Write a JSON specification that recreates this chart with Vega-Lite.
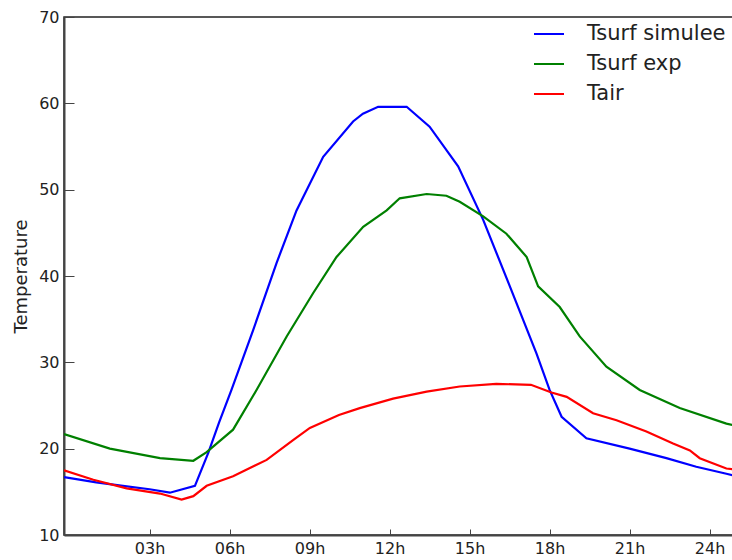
{
  "$schema": "https://vega.github.io/schema/vega-lite/v6.json",
  "autosize": {"type": "none"},
  "padding": {"left": 64, "top": 17, "right": 0, "bottom": 25},
  "width": 680,
  "height": 518,
  "background": "white",
  "config": {
    "font": "DejaVu Sans",
    "view": {"stroke": "#222", "strokeWidth": 1.5},
    "axis": {"labelFont": "DejaVu Sans", "titleFont": "DejaVu Sans", "labelColor": "#222", "titleColor": "#222", "domainColor": "#444", "domainWidth": 2, "tickColor": "#444", "tickWidth": 1, "grid": false}
  },
  "data": {
    "values": [
      {"h": -0.21, "v": 16.7, "s": "Tsurf simulee"},
      {"h": 1.0, "v": 16.1, "s": "Tsurf simulee"},
      {"h": 2.0, "v": 15.7, "s": "Tsurf simulee"},
      {"h": 3.0, "v": 15.3, "s": "Tsurf simulee"},
      {"h": 3.76, "v": 14.9, "s": "Tsurf simulee"},
      {"h": 4.7, "v": 15.7, "s": "Tsurf simulee"},
      {"h": 5.2, "v": 19.5, "s": "Tsurf simulee"},
      {"h": 5.6, "v": 23.0, "s": "Tsurf simulee"},
      {"h": 6.07, "v": 26.8, "s": "Tsurf simulee"},
      {"h": 6.88, "v": 33.7, "s": "Tsurf simulee"},
      {"h": 7.76, "v": 41.5, "s": "Tsurf simulee"},
      {"h": 8.51, "v": 47.6, "s": "Tsurf simulee"},
      {"h": 9.51, "v": 53.8, "s": "Tsurf simulee"},
      {"h": 10.63, "v": 57.9, "s": "Tsurf simulee"},
      {"h": 11.0, "v": 58.8, "s": "Tsurf simulee"},
      {"h": 11.57, "v": 59.6, "s": "Tsurf simulee"},
      {"h": 12.64, "v": 59.6, "s": "Tsurf simulee"},
      {"h": 13.5, "v": 57.3, "s": "Tsurf simulee"},
      {"h": 14.57, "v": 52.7, "s": "Tsurf simulee"},
      {"h": 15.51, "v": 46.5, "s": "Tsurf simulee"},
      {"h": 16.51, "v": 38.8, "s": "Tsurf simulee"},
      {"h": 17.51, "v": 31.0, "s": "Tsurf simulee"},
      {"h": 18.0, "v": 26.8, "s": "Tsurf simulee"},
      {"h": 18.45, "v": 23.7, "s": "Tsurf simulee"},
      {"h": 19.38, "v": 21.2, "s": "Tsurf simulee"},
      {"h": 21.0, "v": 20.0, "s": "Tsurf simulee"},
      {"h": 22.38, "v": 18.9, "s": "Tsurf simulee"},
      {"h": 23.5, "v": 17.9, "s": "Tsurf simulee"},
      {"h": 24.63, "v": 17.1, "s": "Tsurf simulee"},
      {"h": 24.9, "v": 16.9, "s": "Tsurf simulee"},
      {"h": -0.21, "v": 21.7, "s": "Tsurf exp"},
      {"h": 1.51, "v": 20.0, "s": "Tsurf exp"},
      {"h": 3.39, "v": 18.9, "s": "Tsurf exp"},
      {"h": 4.64, "v": 18.6, "s": "Tsurf exp"},
      {"h": 5.14, "v": 19.6, "s": "Tsurf exp"},
      {"h": 6.13, "v": 22.2, "s": "Tsurf exp"},
      {"h": 7.01, "v": 26.8, "s": "Tsurf exp"},
      {"h": 8.14, "v": 33.0, "s": "Tsurf exp"},
      {"h": 9.13, "v": 38.0, "s": "Tsurf exp"},
      {"h": 10.01, "v": 42.2, "s": "Tsurf exp"},
      {"h": 11.01, "v": 45.7, "s": "Tsurf exp"},
      {"h": 11.89, "v": 47.6, "s": "Tsurf exp"},
      {"h": 12.38, "v": 49.0, "s": "Tsurf exp"},
      {"h": 13.39, "v": 49.5, "s": "Tsurf exp"},
      {"h": 14.13, "v": 49.3, "s": "Tsurf exp"},
      {"h": 14.63, "v": 48.6, "s": "Tsurf exp"},
      {"h": 15.51, "v": 46.9, "s": "Tsurf exp"},
      {"h": 16.38, "v": 44.9, "s": "Tsurf exp"},
      {"h": 17.14, "v": 42.2, "s": "Tsurf exp"},
      {"h": 17.57, "v": 38.8, "s": "Tsurf exp"},
      {"h": 18.38, "v": 36.4, "s": "Tsurf exp"},
      {"h": 19.13, "v": 33.0, "s": "Tsurf exp"},
      {"h": 20.13, "v": 29.5, "s": "Tsurf exp"},
      {"h": 21.38, "v": 26.8, "s": "Tsurf exp"},
      {"h": 22.88, "v": 24.7, "s": "Tsurf exp"},
      {"h": 24.63, "v": 22.9, "s": "Tsurf exp"},
      {"h": 24.9, "v": 22.7, "s": "Tsurf exp"},
      {"h": -0.21, "v": 17.5, "s": "Tair"},
      {"h": 0.89, "v": 16.4, "s": "Tair"},
      {"h": 2.14, "v": 15.4, "s": "Tair"},
      {"h": 3.39, "v": 14.8, "s": "Tair"},
      {"h": 4.2, "v": 14.1, "s": "Tair"},
      {"h": 4.64, "v": 14.5, "s": "Tair"},
      {"h": 5.14, "v": 15.7, "s": "Tair"},
      {"h": 6.13, "v": 16.8, "s": "Tair"},
      {"h": 7.39, "v": 18.7, "s": "Tair"},
      {"h": 8.38, "v": 21.0, "s": "Tair"},
      {"h": 9.01, "v": 22.4, "s": "Tair"},
      {"h": 10.1, "v": 23.9, "s": "Tair"},
      {"h": 10.88, "v": 24.7, "s": "Tair"},
      {"h": 12.13, "v": 25.8, "s": "Tair"},
      {"h": 13.39, "v": 26.6, "s": "Tair"},
      {"h": 14.63, "v": 27.2, "s": "Tair"},
      {"h": 16.0, "v": 27.5, "s": "Tair"},
      {"h": 17.3, "v": 27.4, "s": "Tair"},
      {"h": 18.07, "v": 26.5, "s": "Tair"},
      {"h": 18.64, "v": 26.0, "s": "Tair"},
      {"h": 19.63, "v": 24.1, "s": "Tair"},
      {"h": 20.51, "v": 23.3, "s": "Tair"},
      {"h": 21.63, "v": 22.0, "s": "Tair"},
      {"h": 22.63, "v": 20.6, "s": "Tair"},
      {"h": 23.26, "v": 19.8, "s": "Tair"},
      {"h": 23.63, "v": 18.9, "s": "Tair"},
      {"h": 24.63, "v": 17.7, "s": "Tair"},
      {"h": 24.9, "v": 17.6, "s": "Tair"}
    ]
  },
  "mark": {"type": "line", "strokeWidth": 2.2, "clip": true},
  "encoding": {
    "x": {
      "field": "h", "type": "quantitative",
      "scale": {"domain": [-0.21, 25.29], "nice": false, "zero": false},
      "axis": {"title": null, "values": [3, 6, 9, 12, 15, 18, 21, 24], "labelExpr": "format(datum.value, '02d') + 'h'", "labelFontSize": 16, "tickSize": -6, "labelPadding": 11, "labelFlush": false}
    },
    "y": {
      "field": "v", "type": "quantitative",
      "scale": {"domain": [10, 70], "nice": false, "zero": false},
      "axis": {"title": "Temperature", "titleFontSize": 18, "titleFontWeight": "normal", "titlePadding": 8, "values": [10, 20, 30, 40, 50, 60, 70], "labelFontSize": 16, "tickSize": -10, "labelPadding": 15, "labelFlush": false}
    },
    "color": {
      "field": "s", "type": "nominal",
      "scale": {"domain": ["Tsurf simulee", "Tsurf exp", "Tair"], "range": ["#0000ff", "#008000", "#ff0000"]},
      "legend": {"title": null, "orient": "none", "legendX": 469, "legendY": 1, "padding": 0, "symbolType": "stroke", "symbolSize": 900, "symbolStrokeWidth": 2, "labelFontSize": 21, "labelFont": "DejaVu Sans", "labelColor": "#222", "labelOffset": 22, "rowPadding": 4, "symbolLimit": 0}
    },
    "order": {"field": "h", "type": "quantitative"}
  }
}
